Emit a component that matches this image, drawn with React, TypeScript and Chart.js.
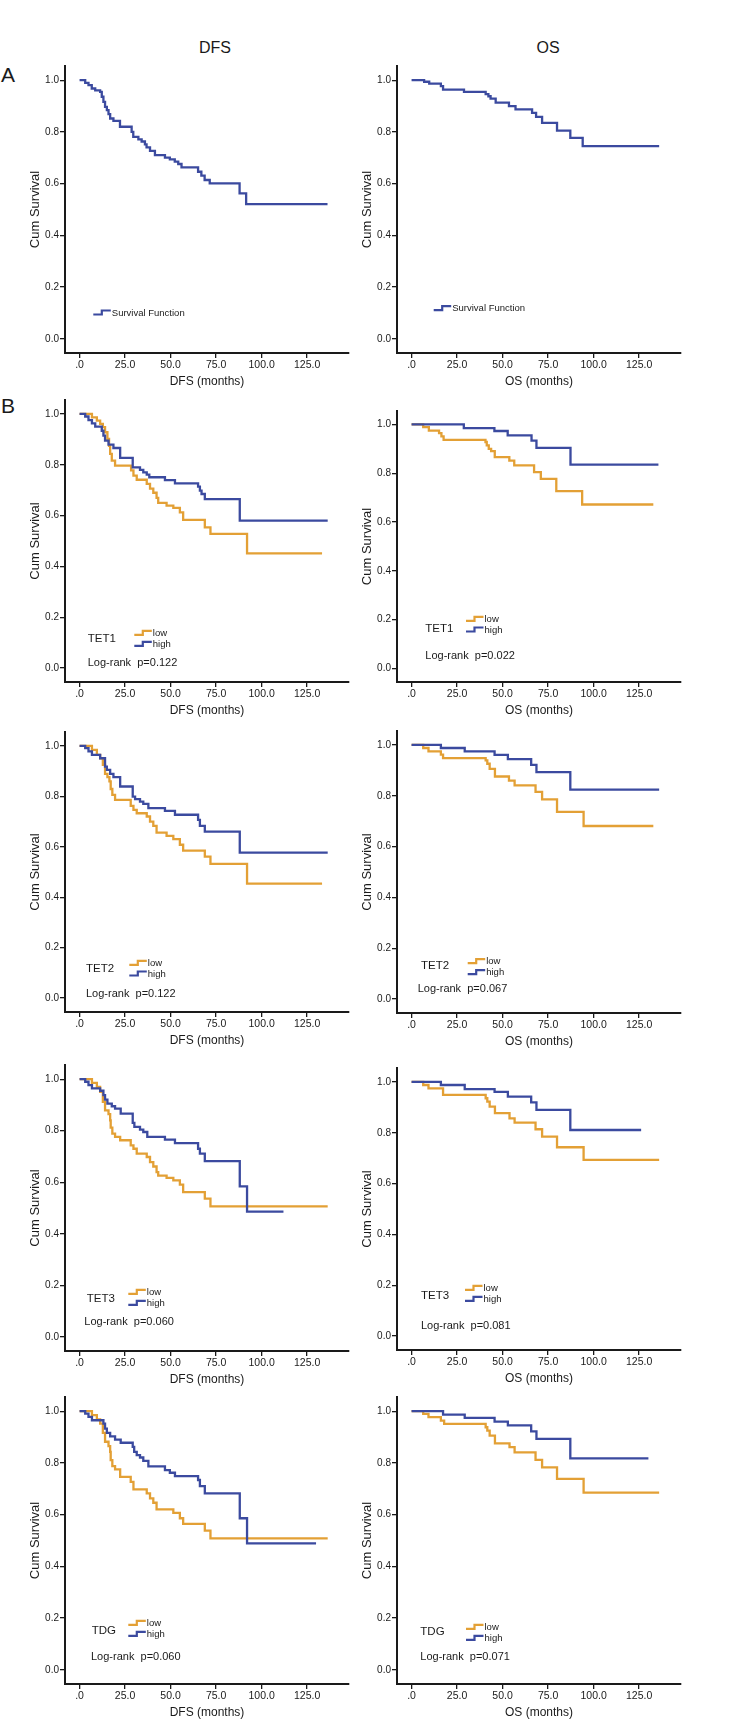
import React, { useEffect, useRef } from "react";
import { Chart, registerables } from "chart.js";

Chart.register(...registerables);

// ---------- styling constants ----------
const BLUE = "#3b4a9f";
const ORANGE = "#e3a035";
const INK = "#1a1a1a";
const FONT = "'Liberation Sans', Arial, Helvetica, sans-serif";

// ---------- axes ----------
const xTickValues = [0, 25, 50, 75, 100, 125];
const xTickLabels = [".0", "25.0", "50.0", "75.0", "100.0", "125.0"];
const yTickValues = [0, 0.2, 0.4, 0.6, 0.8, 1.0];
const yTickLabels = ["0.0", "0.2", "0.4", "0.6", "0.8", "1.0"];
const X_MIN = -8;
const X_MAX = 148;
const Y_MIN = -0.055;
const Y_MAX = 1.055;

// ---------- data (months, cumulative survival) ----------
// A: overall
const aDfsT = [0, 3.1, 4.9, 6.7, 8.6, 11.3, 12.2, 13.1, 14, 15, 15.9, 16.8, 18.6, 22.2, 28.6, 29.5, 32.3, 34.1, 35.9, 36.8, 38.7, 41.4, 46.9, 49.6, 52.3, 54.2, 56, 65.1, 66.9, 68.7, 71.5, 87.9, 91.5, 136.2];
const aDfsS = [1, 0.99, 0.981, 0.968, 0.961, 0.955, 0.936, 0.916, 0.897, 0.884, 0.869, 0.852, 0.843, 0.82, 0.8, 0.781, 0.771, 0.763, 0.752, 0.74, 0.727, 0.71, 0.701, 0.694, 0.685, 0.676, 0.663, 0.646, 0.631, 0.614, 0.601, 0.562, 0.521, 0.521];
const aOsT = [0, 6.9, 9.7, 16.1, 17.3, 28.8, 40.7, 42.2, 43.4, 46.2, 53.5, 57.1, 66.2, 68.4, 71.7, 79.9, 87.2, 94, 136];
const aOsS = [1, 0.994, 0.987, 0.977, 0.964, 0.955, 0.946, 0.938, 0.929, 0.913, 0.9, 0.887, 0.874, 0.858, 0.835, 0.805, 0.777, 0.745, 0.745];

// TET1
const tet1DfsLowT = [0, 6.8, 9.5, 11.3, 12.8, 14, 15.3, 16.2, 16.8, 17.7, 19.5, 28.3, 29.6, 31.4, 36.9, 38.7, 40.5, 42.3, 43.2, 47.8, 51.5, 55.1, 56.9, 68.8, 71.9, 92, 133.2];
const tet1DfsLowS = [1, 0.987, 0.974, 0.961, 0.948, 0.928, 0.902, 0.875, 0.843, 0.816, 0.797, 0.778, 0.757, 0.741, 0.725, 0.706, 0.69, 0.67, 0.65, 0.639, 0.63, 0.613, 0.583, 0.554, 0.528, 0.451, 0.451];
const tet1DfsHighT = [0, 3.1, 4.9, 6.8, 8.6, 12.2, 13.1, 14, 15.9, 18.6, 22.3, 29.2, 33.2, 35, 36.9, 38.3, 46.9, 52.4, 65.1, 66.1, 67, 68.8, 88, 136.3];
const tet1DfsHighS = [1, 0.99, 0.976, 0.963, 0.95, 0.934, 0.915, 0.895, 0.879, 0.866, 0.827, 0.79, 0.78, 0.77, 0.761, 0.751, 0.74, 0.727, 0.714, 0.698, 0.685, 0.665, 0.58, 0.58];
const tet1OsLowT = [0, 6.4, 9.5, 15.1, 16.4, 17.6, 40.6, 41.3, 42.4, 43.7, 45.7, 53.7, 56.4, 67.3, 71, 79.5, 93.7, 132.8];
const tet1OsLowS = [1, 0.989, 0.975, 0.964, 0.951, 0.937, 0.928, 0.914, 0.9, 0.891, 0.866, 0.852, 0.832, 0.805, 0.777, 0.727, 0.672, 0.672];
const tet1OsHighT = [0, 28.7, 45.5, 52.8, 65.9, 68.6, 87.3, 135.6];
const tet1OsHighS = [1, 0.985, 0.973, 0.955, 0.934, 0.904, 0.835, 0.835];

// TET2
const tet2DfsLowT = [0, 6.8, 9.5, 11.3, 12.8, 14, 15.3, 16.4, 17.1, 18, 19.5, 28.1, 29.6, 31.4, 36.9, 38.7, 40.5, 42.3, 47.8, 51.5, 55.1, 56.9, 68.8, 71.9, 92, 133.2];
const tet2DfsLowS = [1, 0.984, 0.964, 0.951, 0.925, 0.889, 0.876, 0.859, 0.829, 0.806, 0.786, 0.762, 0.746, 0.733, 0.72, 0.7, 0.683, 0.656, 0.643, 0.63, 0.608, 0.585, 0.561, 0.532, 0.454, 0.454];
const tet2DfsHighT = [0, 3.1, 4.9, 6.8, 11.3, 14, 15, 16.8, 18.6, 22.3, 29.2, 30.5, 33.2, 35, 37.8, 46.9, 52.4, 65.1, 66.1, 68.8, 88, 136.3];
const tet2DfsHighS = [1, 0.991, 0.978, 0.964, 0.951, 0.918, 0.905, 0.889, 0.876, 0.839, 0.799, 0.789, 0.779, 0.77, 0.753, 0.742, 0.727, 0.707, 0.683, 0.66, 0.577, 0.577];
const tet2OsLowT = [0, 6.4, 9.3, 16.1, 17.3, 40.7, 41.6, 42.9, 45.8, 53.5, 56.6, 68.1, 71.7, 79.9, 94.5, 132.8];
const tet2OsLowS = [1, 0.988, 0.975, 0.962, 0.948, 0.939, 0.926, 0.906, 0.876, 0.86, 0.841, 0.815, 0.786, 0.737, 0.681, 0.681];
const tet2OsHighT = [0, 16.1, 29.2, 45.6, 52.9, 65.7, 68.6, 87.2, 136];
const tet2OsHighS = [1, 0.988, 0.975, 0.961, 0.944, 0.922, 0.893, 0.824, 0.824];

// TET3
const tet3DfsLowT = [0, 6.8, 9.5, 11.3, 12.8, 14, 15.9, 16.8, 17.1, 18, 19.5, 22.3, 28.1, 29.6, 31.4, 36.9, 38.7, 40.5, 42.3, 43.2, 47.8, 51.5, 55.1, 56.9, 68.8, 71.9, 136.3];
const tet3DfsLowS = [1, 0.986, 0.97, 0.951, 0.912, 0.879, 0.864, 0.84, 0.812, 0.789, 0.776, 0.763, 0.743, 0.73, 0.711, 0.698, 0.678, 0.661, 0.639, 0.626, 0.617, 0.607, 0.591, 0.562, 0.536, 0.506, 0.506];
const tet3DfsHighT = [0, 3.1, 4.9, 6.8, 11.3, 13.1, 14, 15.3, 17.7, 19.5, 22.6, 29.2, 30.1, 33.2, 35, 37.2, 46.9, 52.4, 65.1, 66.1, 68.8, 88, 92, 112];
const tet3DfsHighS = [1, 0.99, 0.977, 0.964, 0.955, 0.938, 0.921, 0.905, 0.895, 0.886, 0.866, 0.83, 0.815, 0.804, 0.795, 0.776, 0.765, 0.752, 0.73, 0.711, 0.682, 0.584, 0.486, 0.486];
const tet3OsLowT = [0, 6.4, 9.3, 17.3, 40.7, 41.6, 42.9, 45.8, 53.8, 56.6, 68.1, 71.7, 79.9, 94.5, 136];
const tet3OsLowS = [1, 0.988, 0.975, 0.949, 0.936, 0.923, 0.903, 0.877, 0.857, 0.84, 0.814, 0.785, 0.743, 0.693, 0.693];
const tet3OsHighT = [0, 16.1, 29.2, 45.6, 52.9, 65.7, 68.6, 87.2, 126.1];
const tet3OsHighS = [1, 0.988, 0.972, 0.961, 0.942, 0.92, 0.89, 0.811, 0.811];

// TDG
const tdgDfsLowT = [0, 6.8, 9.5, 11.3, 12.8, 14, 15.9, 16.8, 17.1, 18, 19.5, 22.3, 28.1, 29.6, 36.9, 38.7, 40.5, 42.3, 51.5, 55.1, 56.9, 68.8, 71.9, 136.3];
const tdgDfsLowS = [1, 0.985, 0.968, 0.952, 0.916, 0.882, 0.865, 0.843, 0.811, 0.788, 0.775, 0.746, 0.727, 0.698, 0.682, 0.663, 0.646, 0.62, 0.607, 0.586, 0.564, 0.538, 0.508, 0.508];
const tdgDfsHighT = [0, 3.1, 4.9, 6.8, 13.1, 14, 15, 16.8, 19.5, 22.6, 29.2, 30, 31.4, 33.2, 35, 37.8, 46.9, 49.6, 52.4, 65.1, 66.1, 68.8, 88, 92, 129.9];
const tdgDfsHighS = [1, 0.991, 0.978, 0.965, 0.952, 0.933, 0.916, 0.903, 0.89, 0.878, 0.862, 0.843, 0.83, 0.821, 0.808, 0.787, 0.772, 0.762, 0.749, 0.734, 0.71, 0.682, 0.586, 0.489, 0.489];
const tdgOsLowT = [0, 6.4, 9.3, 16.1, 17.9, 40.7, 41.6, 42.9, 45.8, 53.8, 56.6, 68.1, 71.7, 79.9, 94.5, 136];
const tdgOsLowS = [1, 0.99, 0.977, 0.964, 0.951, 0.938, 0.925, 0.906, 0.876, 0.861, 0.841, 0.812, 0.783, 0.738, 0.685, 0.685];
const tdgOsHighT = [0, 17.3, 29.2, 45.6, 52.9, 65.7, 68.6, 87.2, 130.1];
const tdgOsHighS = [1, 0.987, 0.974, 0.96, 0.945, 0.922, 0.893, 0.818, 0.818];

// ---------- text ----------
const pValues = ["p=0.122", "p=0.022", "p=0.122", "p=0.067", "p=0.060", "p=0.081", "p=0.060", "p=0.071"];
const genes = ["TET1", "TET2", "TET3", "TDG"];
const groupLabels = ["low", "high"];

// ---------- layout of panels (page pixels) ----------
const COLS = [
  { canvasLeft: 0, canvasWidth: 352, chartLeft: 65, chartRight: 349, yTitleX: 35 },
  { canvasLeft: 340, canvasWidth: 393, chartLeft: 397, chartRight: 681, yTitleX: 367 },
];
const PAD_TOP = 12;
const X_AXIS_H = 42;

type Curve = { t: number[]; s: number[]; color: string };
type Leg =
  | { kind: "single"; iconX: number; textY: number }
  | { kind: "group"; gene: string; geneX: number; geneY: number; iconX: number; lowY: number; highY: number; p: string; pX: number; pY: number };
type Panel = { col: number; top: number; bottom: number; xTitle: string; curves: Curve[]; legend: Leg };

const PANELS: Panel[] = [
  { col: 0, top: 66, bottom: 353, xTitle: "DFS (months)", curves: [{ t: aDfsT, s: aDfsS, color: BLUE }], legend: { kind: "single", iconX: 93.3, textY: 313 } },
  { col: 1, top: 66, bottom: 353, xTitle: "OS (months)", curves: [{ t: aOsT, s: aOsS, color: BLUE }], legend: { kind: "single", iconX: 433.7, textY: 308.7 } },
  { col: 0, top: 400, bottom: 682, xTitle: "DFS (months)", curves: [{ t: tet1DfsHighT, s: tet1DfsHighS, color: BLUE }, { t: tet1DfsLowT, s: tet1DfsLowS, color: ORANGE }], legend: { kind: "group", gene: genes[0], geneX: 87.7, geneY: 639, iconX: 134.3, lowY: 633.3, highY: 644.3, p: pValues[0], pX: 87.7, pY: 663.3 } },
  { col: 1, top: 411, bottom: 682, xTitle: "OS (months)", curves: [{ t: tet1OsHighT, s: tet1OsHighS, color: BLUE }, { t: tet1OsLowT, s: tet1OsLowS, color: ORANGE }], legend: { kind: "group", gene: genes[0], geneX: 425.3, geneY: 629.3, iconX: 466, lowY: 619.3, highY: 630, p: pValues[1], pX: 425.3, pY: 655.7 } },
  { col: 0, top: 732, bottom: 1012, xTitle: "DFS (months)", curves: [{ t: tet2DfsHighT, s: tet2DfsHighS, color: BLUE }, { t: tet2DfsLowT, s: tet2DfsLowS, color: ORANGE }], legend: { kind: "group", gene: genes[1], geneX: 86, geneY: 968.7, iconX: 129.3, lowY: 963.3, highY: 974, p: pValues[2], pX: 86, pY: 994.3 } },
  { col: 1, top: 731, bottom: 1013, xTitle: "OS (months)", curves: [{ t: tet2OsHighT, s: tet2OsHighS, color: BLUE }, { t: tet2OsLowT, s: tet2OsLowS, color: ORANGE }], legend: { kind: "group", gene: genes[1], geneX: 421, geneY: 965.7, iconX: 467.7, lowY: 961.7, highY: 972.7, p: pValues[3], pX: 417.7, pY: 988.7 } },
  { col: 0, top: 1065, bottom: 1351, xTitle: "DFS (months)", curves: [{ t: tet3DfsHighT, s: tet3DfsHighS, color: BLUE }, { t: tet3DfsLowT, s: tet3DfsLowS, color: ORANGE }], legend: { kind: "group", gene: genes[2], geneX: 86.7, geneY: 1298.7, iconX: 128.3, lowY: 1292.3, highY: 1303.3, p: pValues[4], pX: 84.3, pY: 1322.3 } },
  { col: 1, top: 1068, bottom: 1350, xTitle: "OS (months)", curves: [{ t: tet3OsHighT, s: tet3OsHighS, color: BLUE }, { t: tet3OsLowT, s: tet3OsLowS, color: ORANGE }], legend: { kind: "group", gene: genes[2], geneX: 421, geneY: 1295.7, iconX: 465, lowY: 1288.3, highY: 1299.3, p: pValues[5], pX: 421, pY: 1325.7 } },
  { col: 0, top: 1397, bottom: 1684, xTitle: "DFS (months)", curves: [{ t: tdgDfsHighT, s: tdgDfsHighS, color: BLUE }, { t: tdgDfsLowT, s: tdgDfsLowS, color: ORANGE }], legend: { kind: "group", gene: genes[3], geneX: 91.7, geneY: 1630.7, iconX: 128.3, lowY: 1623.3, highY: 1634.3, p: pValues[6], pX: 91, pY: 1656.7 } },
  { col: 1, top: 1397, bottom: 1684, xTitle: "OS (months)", curves: [{ t: tdgOsHighT, s: tdgOsHighS, color: BLUE }, { t: tdgOsLowT, s: tdgOsLowS, color: ORANGE }], legend: { kind: "group", gene: genes[3], geneX: 420.3, geneY: 1632.3, iconX: 466, lowY: 1627.3, highY: 1638.3, p: pValues[7], pX: 420.3, pY: 1657.3 } },
];

function drawIcon(ctx: CanvasRenderingContext2D, x: number, y: number, color: string) {
  ctx.save();
  ctx.strokeStyle = color;
  ctx.lineWidth = 2.2;
  ctx.lineJoin = "miter";
  ctx.beginPath();
  ctx.moveTo(x, y + 1.5);
  ctx.lineTo(x + 8.5, y + 1.5);
  ctx.lineTo(x + 8.5, y - 2.5);
  ctx.lineTo(x + 17.5, y - 2.5);
  ctx.stroke();
  ctx.restore();
}

function KMPanel({ p }: { p: Panel }) {
  const ref = useRef<HTMLCanvasElement | null>(null);
  const col = COLS[p.col];
  const canvasTop = p.top - PAD_TOP;
  const canvasHeight = PAD_TOP + (p.bottom - p.top) + X_AXIS_H;

  useEffect(() => {
    if (!ref.current) return;
    const ox = col.canvasLeft;
    const oy = canvasTop;
    const yTitleSize = 13;
    const yTitlePad = col.yTitleX - col.canvasLeft - (yTitleSize * 1.2) / 2;

    const legendPlugin = {
      id: "kmLegend",
      afterDraw(chart: any) {
        const ctx: CanvasRenderingContext2D = chart.ctx;
        const L = p.legend;
        ctx.save();
        ctx.fillStyle = INK;
        ctx.textBaseline = "middle";
        ctx.textAlign = "left";
        if (L.kind === "single") {
          drawIcon(ctx, L.iconX - ox, L.textY - oy, BLUE);
          ctx.font = `9.5px ${FONT}`;
          ctx.fillText("Survival Function", L.iconX + 18.5 - ox, L.textY - oy);
        } else {
          ctx.font = `11.5px ${FONT}`;
          ctx.fillText(L.gene, L.geneX - ox, L.geneY - oy);
          drawIcon(ctx, L.iconX - ox, L.lowY - oy, ORANGE);
          drawIcon(ctx, L.iconX - ox, L.highY - oy, BLUE);
          ctx.font = `9.5px ${FONT}`;
          ctx.fillText(groupLabels[0], L.iconX + 18.5 - ox, L.lowY - oy);
          ctx.fillText(groupLabels[1], L.iconX + 18.5 - ox, L.highY - oy);
          ctx.font = `11px ${FONT}`;
          ctx.fillText("Log-rank  " + L.p, L.pX - ox, L.pY - oy);
        }
        ctx.restore();
      },
    };

    const chart = new Chart(ref.current, {
      type: "line",
      data: {
        datasets: p.curves.map((c, i) => ({
          data: c.t.map((t, k) => ({ x: t, y: c.s[k] })),
          borderColor: c.color,
          borderWidth: 2.3,
          pointRadius: 0,
          fill: false,
          stepped: "before" as const,
          order: i,
        })),
      },
      options: {
        animation: false,
        responsive: false,
        maintainAspectRatio: false,
        devicePixelRatio: 1,
        events: [],
        layout: { padding: { top: PAD_TOP, left: 0, right: col.canvasWidth - (col.chartRight - col.canvasLeft), bottom: 0 } },
        plugins: { legend: { display: false }, tooltip: { enabled: false }, title: { display: false } },
        scales: {
          x: {
            type: "linear",
            min: X_MIN,
            max: X_MAX,
            afterFit: (s: any) => { s.height = X_AXIS_H; },
            afterBuildTicks: (s: any) => { s.ticks = xTickValues.map((v) => ({ value: v })); },
            ticks: {
              autoSkip: false,
              maxRotation: 0,
              padding: 1,
              color: INK,
              font: { family: FONT, size: 10.5 },
              callback: (_v: any, i: number) => xTickLabels[i],
            },
            grid: { display: true, drawOnChartArea: false, drawTicks: true, tickLength: 5, color: INK, lineWidth: 1.3 },
            border: { display: true, color: INK, width: 2 },
            title: { display: true, text: p.xTitle, color: INK, font: { family: FONT, size: 12 }, padding: { top: 0, bottom: 5.8 } },
          },
          y: {
            type: "linear",
            min: Y_MIN,
            max: Y_MAX,
            afterFit: (s: any) => { s.width = col.chartLeft - col.canvasLeft; },
            afterBuildTicks: (s: any) => { s.ticks = yTickValues.map((v) => ({ value: v })); },
            ticks: {
              autoSkip: false,
              padding: 1,
              color: INK,
              font: { family: FONT, size: 10 },
              callback: (_v: any, i: number) => yTickLabels[i],
            },
            grid: { display: true, drawOnChartArea: false, drawTicks: true, tickLength: 5, color: INK, lineWidth: 1.3 },
            border: { display: true, color: INK, width: 2 },
            title: { display: true, text: "Cum Survival", color: INK, font: { family: FONT, size: yTitleSize }, padding: { top: yTitlePad, bottom: 0 } },
          },
        },
      },
      plugins: [legendPlugin],
    } as any);
    return () => chart.destroy();
  }, []);

  return (
    <canvas
      ref={ref}
      width={col.canvasWidth}
      height={canvasHeight}
      style={{ position: "absolute", left: col.canvasLeft, top: canvasTop, width: col.canvasWidth, height: canvasHeight }}
    />
  );
}

function Label({ text, x, cy, size, center }: { text: string; x: number; cy: number; size: number; center?: boolean }) {
  return (
    <div
      style={{
        position: "absolute",
        left: center ? x - 100 : x,
        width: center ? 200 : undefined,
        textAlign: center ? "center" : "left",
        top: cy - size * 0.49,
        fontSize: size,
        lineHeight: 1,
        fontFamily: FONT,
        color: INK,
        whiteSpace: "nowrap",
      }}
    >
      {text}
    </div>
  );
}

export default function App() {
  return (
    <div style={{ position: "absolute", left: 0, top: 0, width: 733, height: 1731, background: "#fff", overflow: "hidden" }}>
      <Label text="DFS" x={215} cy={48} size={16} center />
      <Label text="OS" x={548} cy={48} size={16} center />
      <Label text="A" x={1} cy={74} size={21} />
      <Label text="B" x={1} cy={405.5} size={21} />
      {PANELS.map((p, i) => (
        <KMPanel key={i} p={p} />
      ))}
    </div>
  );
}
